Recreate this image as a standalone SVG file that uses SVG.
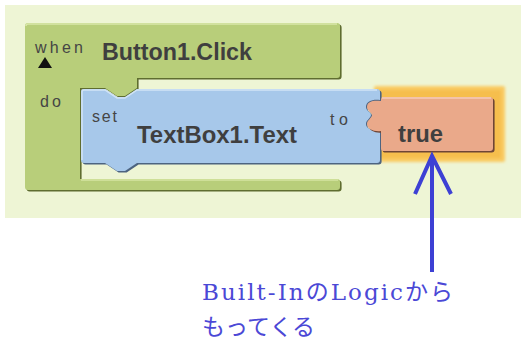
<svg xmlns="http://www.w3.org/2000/svg" width="521" height="345" viewBox="0 0 521 345">
  <defs>
    <style>
      .lbl { font-family: "Liberation Sans", Arial, sans-serif; font-size: 16px; fill: #454545; }
      .name { font-family: "Liberation Sans", Arial, sans-serif; font-weight: bold; font-size: 23px; fill: #3f3f3f; }
      .note { font-family: "DejaVu Serif", "Noto Sans CJK JP", serif; font-size: 23px; fill: #4b48d6; }
      .arrow { stroke: #3d40d4; stroke-width: 4; fill: none; stroke-linejoin: miter; }
    </style>
    <filter id="soft" x="-10%" y="-10%" width="120%" height="120%">
      <feGaussianBlur stdDeviation="1.6"/>
    </filter>
  </defs>

  <!-- workspace background -->
  <rect id="workspace" x="5" y="5" width="516" height="213" fill="#eef5d5"/>

  <!-- event block: when Button1.Click / do -->
  <g id="when-block">
    <path transform="translate(1.6,1.6)" fill="#5f6d30" d="M25,26 Q25,23 28,23 H337 Q340,23 340,26 V75 Q340,78 337,78 H137 V88 L125,96 H117 L105,88 H80 V179 H337 Q340,179 340,182 V187 Q340,190 337,190 H28 Q25,190 25,187 Z"/>
    <path fill="#b8ce7a" d="M25,26 Q25,23 28,23 H337 Q340,23 340,26 V75 Q340,78 337,78 H137 V88 L125,96 H117 L105,88 H80 V179 H337 Q340,179 340,182 V187 Q340,190 337,190 H28 Q25,190 25,187 Z"/>
    <path d="M26,26 Q26,24 28,24 H337" stroke="#d9e7aa" stroke-width="1.5" fill="none"/>
    <path d="M81,180 H338" stroke="#d6e5a3" stroke-width="1.5" fill="none"/>
    <text class="lbl" x="35" y="53" textLength="48" lengthAdjust="spacing">when</text>
    <polygon points="38,68 45,57 52,68" fill="#111"/>
    <text class="lbl" x="40" y="107" textLength="21" lengthAdjust="spacing">do</text>
    <text class="name" x="102" y="60" textLength="150" lengthAdjust="spacingAndGlyphs">Button1.Click</text>
  </g>

  <!-- highlight around the selected value block -->
  <g id="true-glow">
    <rect x="374" y="86" width="131" height="76" rx="2" fill="#f9ca62" filter="url(#soft)"/>
    <rect x="377" y="90" width="124" height="68" fill="#f6be4e" filter="url(#soft)"/>
  </g>

  <!-- setter block: set TextBox1.Text to -->
  <g id="set-block">
    <path transform="translate(1.6,1.6)" fill="#4d6480" d="M81,92 Q81,89 84,89 H105 L117,97 H125 L137,89 H377 Q380,89 380,92 V100 C373,99 366,101 366,107 C366,111 371,112 371,115 C371,118 366,120 366,124 C366,129 373,131 380,130 V160 Q380,163 377,163 H137 L125,171 H117 L105,163 H84 Q81,163 81,160 Z"/>
    <path fill="#a7c8ea" d="M81,92 Q81,89 84,89 H105 L117,97 H125 L137,89 H377 Q380,89 380,92 V100 C373,99 366,101 366,107 C366,111 371,112 371,115 C371,118 366,120 366,124 C366,129 373,131 380,130 V160 Q380,163 377,163 H137 L125,171 H117 L105,163 H84 Q81,163 81,160 Z"/>
    <path d="M82,160 V92 Q82,90 84,90 H105 L117,98 H125 L137,90 H377" stroke="#d2e4f6" stroke-width="1.5" fill="none"/>
    <text class="lbl" x="92" y="122" textLength="25" lengthAdjust="spacing">set</text>
    <text class="name" x="137" y="143" textLength="160" lengthAdjust="spacingAndGlyphs">TextBox1.Text</text>
    <text class="lbl" x="330" y="125" textLength="18" lengthAdjust="spacing">to</text>
  </g>

  <!-- value block: true -->
  <g id="true-block">
    <path transform="translate(1.6,1.6)" fill="#6e4536" d="M383,97 H490 Q493,97 493,100 V148 Q493,151 490,151 H383 Q381,151 381,148 V131 C374,132 367,129 367,124 C367,120 372,118 372,115 C372,112 367,111 367,107 C367,101 374,100 381,101 V100 Q381,97 383,97 Z"/>
    <path fill="#eaa98a" d="M383,97 H490 Q493,97 493,100 V148 Q493,151 490,151 H383 Q381,151 381,148 V131 C374,132 367,129 367,124 C367,120 372,118 372,115 C372,112 367,111 367,107 C367,101 374,100 381,101 V100 Q381,97 383,97 Z"/>
    <path d="M382,98 H491" stroke="#f6cdb6" stroke-width="1.5" fill="none"/>
    <text class="name" x="398" y="142" textLength="45" lengthAdjust="spacingAndGlyphs">true</text>
  </g>

  <!-- pointer arrow -->
  <g id="connectors">
    <line class="arrow" x1="432" y1="158" x2="432" y2="272"/>
    <polyline class="arrow" points="415,194 432,156 451,194"/>
  </g>

  <!-- annotation -->
  <g id="note">
    <text class="note" x="202" y="300" textLength="251" lengthAdjust="spacing">Built-InのLogicから</text>
    <text class="note" x="202" y="335" textLength="113" lengthAdjust="spacing">もってくる</text>
  </g>
</svg>
